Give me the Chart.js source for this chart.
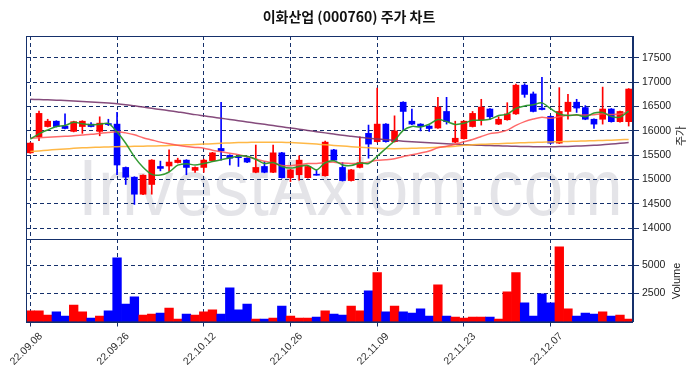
<!DOCTYPE html>
<html><head><meta charset="utf-8">
<script src="https://cdn.jsdelivr.net/npm/chart.js@4.4.0/dist/chart.umd.min.js"></script>
<style>
html,body{margin:0;padding:0;background:#fff;}
#wrap{position:relative;width:698px;height:378px;background:#fff;}
canvas{position:absolute;left:0;top:0;}
</style></head><body>
<div id="wrap"><canvas id="c1" width="698" height="378"></canvas><canvas id="c2" width="698" height="378"></canvas></div>
<script>
const dates = ["22.09.08","22.09.13","22.09.14","22.09.15","22.09.16","22.09.19","22.09.20","22.09.21","22.09.22","22.09.23",
"22.09.26","22.09.27","22.09.28","22.09.29","22.09.30","22.10.04","22.10.05","22.10.06","22.10.07","22.10.11",
"22.10.12","22.10.13","22.10.14","22.10.17","22.10.18","22.10.19","22.10.20","22.10.21","22.10.24","22.10.25",
"22.10.26","22.10.27","22.10.28","22.10.31","22.11.01","22.11.02","22.11.03","22.11.04","22.11.07","22.11.08",
"22.11.09","22.11.10","22.11.11","22.11.14","22.11.15","22.11.16","22.11.17","22.11.18","22.11.21","22.11.22",
"22.11.23","22.11.24","22.11.25","22.11.28","22.11.29","22.11.30","22.12.01","22.12.02","22.12.05","22.12.06",
"22.12.07","22.12.08","22.12.09","22.12.12","22.12.13","22.12.14","22.12.15","22.12.16","22.12.19","22.12.20"];

const open  = [15550,15880,16090,16200,16100,15990,16090,16140,15990,16150,
16140,15250,15050,14700,14900,15270,15280,15350,15400,15190,
15250,15390,15640,15500,15470,15440,15150,15270,15150,15550,
15040,15100,15040,15110,15080,15610,15250,14980,15250,15950,
15780,16140,15780,16590,16200,16140,16100,16060,16400,15770,
15840,16090,16230,16450,16140,16230,16350,16940,16760,16470,
16300,15750,16400,16590,16480,16240,16240,16450,16190,16190];
const high  = [15760,16410,16240,16210,16350,16200,16210,16170,16290,16240,
16380,15260,15060,15100,15410,15380,15610,15440,15410,15260,
15420,15560,16590,15510,15510,15450,15710,15370,15710,15560,
15210,15490,15280,15200,15790,15620,15350,15210,15880,16120,
16880,16150,16310,16600,16450,16150,16110,16690,16690,16200,
16210,16400,16650,16460,16290,16580,16960,16970,16800,17100,
16310,16890,16750,16650,16520,16250,16900,16460,16410,16870];
const low   = [15540,15800,16080,16080,16040,15980,15950,16080,15900,16110,
15100,14900,14490,14690,14700,15180,15170,15340,15100,15150,
15150,15380,15400,15300,15270,15350,15140,15140,15140,15030,
14960,14990,15030,15090,15070,15390,14970,14970,15240,15440,
15770,15770,15770,16020,16130,16000,15990,16050,16140,15760,
15830,16080,16120,16240,16130,16220,16340,16690,16390,16430,
15740,15740,16240,16380,16230,16050,16140,16180,16180,16100];
const close = [15750,16360,16200,16090,16050,16190,16200,16090,16160,16130,
15300,15050,14700,15090,15400,15230,15360,15400,15250,15250,
15400,15550,15590,15440,15450,15360,15250,15150,15550,15040,
15200,15400,15270,15090,15770,15400,14980,15200,15350,15730,
16140,15780,16000,16400,16140,16090,16050,16490,16190,15850,
16200,16360,16490,16290,16240,16350,16940,16750,16400,16440,
15750,16400,16590,16470,16240,16140,16450,16190,16400,16860];
const volume = [940,940,580,850,490,1470,850,310,490,940,
5670,1560,2190,580,670,760,1200,220,670,580,
850,1030,670,2990,1030,1560,220,220,310,1380,
490,310,310,400,940,670,580,1380,940,2720,
4360,850,1380,850,760,1120,490,3260,490,400,
310,400,400,400,220,2630,4360,1650,490,2460,
1650,6650,1120,490,760,670,850,490,580,220];

const ma5 = [15830,15940,16020,16090,16110,16178,16146,16124,16138,16154,
15976,15746,15468,15254,15108,15094,15156,15296,15328,15298,
15332,15370,15408,15446,15486,15478,15418,15330,15352,15270,
15238,15268,15292,15200,15346,15386,15302,15288,15340,15332,
15480,15640,15800,16010,16092,16082,16136,16234,16192,16134,
16156,16218,16218,16238,16316,16346,16462,16514,16536,16576,
16456,16348,16316,16330,16290,16368,16378,16298,16284,16408];
const ma20 = [15850,15860,15870,15880,15890,15900,15915,15930,15950,15970,
15985,15960,15920,15860,15815,15770,15735,15705,15680,15662,
15645,15605,15574,15542,15512,15470,15423,15376,15345,15291,
15286,15303,15332,15332,15350,15359,15340,15330,15335,15359,
15396,15407,15428,15476,15510,15547,15587,15654,15686,15726,
15776,15824,15885,15945,15969,16016,16114,16192,16244,16280,
16260,16291,16321,16324,16329,16332,16352,16337,16347,16398];
const ma60 = [15575,15590,15605,15618,15630,15642,15652,15660,15667,15672,
15677,15680,15683,15686,15690,15695,15700,15707,15714,15722,
15730,15738,15746,15753,15760,15764,15767,15768,15768,15765,
15760,15752,15742,15730,15717,15703,15690,15676,15663,15652,
15643,15638,15636,15638,15642,15648,15655,15663,15673,15684,
15705,15715,15724,15732,15739,15745,15752,15758,15764,15769,
15774,15779,15784,15789,15794,15799,15805,15811,15818,15825];
const ma120 = [16650,16645,16640,16632,16625,16615,16605,16595,16585,16572,
16560,16540,16515,16490,16465,16440,16415,16390,16365,16335,
16310,16285,16260,16235,16210,16185,16160,16135,16110,16085,
16060,16035,16010,15985,15960,15935,15910,15890,15870,15850,
15835,15820,15805,15790,15778,15766,15755,15745,15735,15725,
15718,15711,15705,15700,15695,15690,15685,15680,15677,15675,
15675,15678,15682,15688,15695,15705,15715,15730,15745,15760];

const priceTicks = [14000,14500,15000,15500,16000,16500,17000,17500];
const volumeTicks = [2500,5000];

const NAVY = '#15306b';
const DASH = [4,3];
const UP = '#ff0000', DOWN = '#0000ff';
const colors = close.map((c,i)=> c >= open[i] ? UP : DOWN);
const tickFont = {family:'"Liberation Sans", Arial, sans-serif', size:10.5};
const plain = v => String(v);

const xGridColor = (ctx)=> (ctx.index % 10 === 0 ? NAVY : 'rgba(0,0,0,0)');

const framePlugin = (label, cx, cy, extra) => ({
  id:'frame',
  beforeDraw(chart){ if (extra) extra(chart, chart.ctx); },
  afterDraw(chart){
    const ctx = chart.ctx, a = chart.chartArea;
    ctx.save();
    ctx.strokeStyle = NAVY; ctx.lineWidth = 1; ctx.setLineDash([]);
    ctx.strokeRect(Math.round(a.left)+0.5, Math.round(a.top)+0.5, Math.round(a.right-a.left)-1, Math.round(a.bottom-a.top));
    ctx.translate(cx, cy); ctx.rotate(-Math.PI/2);
    ctx.fillStyle = '#222'; ctx.font = '11px "Liberation Sans", "Noto Sans CJK KR", sans-serif';
    ctx.textAlign = 'center'; ctx.textBaseline = 'middle';
    ctx.fillText(label, 0, 0);
    ctx.restore();
  }
});

const xLabelPlugin = {
  id:'xlabels',
  afterDraw(chart){
    const ctx = chart.ctx, sx = chart.scales.x;
    ctx.save();
    ctx.fillStyle = '#333';
    ctx.font = '10.5px "Liberation Sans", Arial, sans-serif';
    ctx.textAlign = 'center'; ctx.textBaseline = 'middle';
    dates.forEach((d,i)=>{
      if (i % 10 !== 0) return;
      const x = sx.getPixelForValue(i);
      ctx.save();
      ctx.translate(x - 4, 349);
      ctx.rotate(-Math.PI/4);
      ctx.fillText(d, 0, 0);
      ctx.restore();
    });
    ctx.restore();
  }
};

const titleAndMark = (chart, ctx) => {
  ctx.save();
  ctx.fillStyle = '#111';
  ctx.font = 'bold 14px "Noto Sans CJK KR", sans-serif';
  ctx.textAlign = 'center'; ctx.textBaseline = 'middle';
  ctx.fillText('이화산업 (000760) 주가 차트', 349, 17);
  ctx.fillStyle = 'rgba(185,185,195,0.38)';
  ctx.font = '80px "Liberation Sans", Arial, sans-serif';
  ctx.textAlign = 'left'; ctx.textBaseline = 'alphabetic';
  ctx.fillText('InvestAxiom.com', 78, 215, 545);
  ctx.restore();
};

const line = (d, col) => ({type:'line', data:d, borderColor:col, borderWidth:1.5, pointRadius:0, tension:0.3, fill:false, order:0});

new Chart(document.getElementById('c1'), {
  type:'bar',
  data:{labels:dates, datasets:[
    line(ma5,'rgba(40,150,40,0.95)'),
    line(ma20,'rgba(255,80,80,0.85)'),
    line(ma60,'rgba(255,176,50,0.9)'),
    line(ma120,'rgba(120,55,110,0.9)'),
    {type:'bar', data:low.map((l,i)=>[l,high[i]]), backgroundColor:colors, barThickness:1, grouped:false, order:2},
    {type:'bar', data:open.map((o,i)=>[o,close[i]]), backgroundColor:colors, barThickness:6, grouped:false, minBarLength:1, order:1}
  ]},
  options:{
    responsive:false, animation:false, devicePixelRatio:1,
    layout:{padding:{left:26, top:36, right:0, bottom:139}},
    plugins:{legend:{display:false}, tooltip:{enabled:false}},
    scales:{
      x:{offset:true, grid:{offset:false, drawTicks:false, color:xGridColor, lineWidth:1},
         border:{display:false, dash:DASH}, ticks:{display:false, autoSkip:false},
         afterFit:s=>{s.height=0; s.paddingLeft=0; s.paddingRight=0;}},
      y:{position:'right', min:13780, max:17950,
         afterBuildTicks:s=>{s.ticks = priceTicks.map(v=>({value:v}));},
         grid:{color:NAVY, lineWidth:1, tickLength:6},
         border:{display:true, color:NAVY, dash:DASH},
         ticks:{color:'#222', font:tickFont, padding:3, callback:plain},
         afterFit:s=>{s.width=65; s.paddingTop=0; s.paddingBottom=0;}}
    }
  },
  plugins:[framePlugin('주가', 682, 136, titleAndMark)]
});

new Chart(document.getElementById('c2'), {
  type:'bar',
  data:{labels:dates, datasets:[
    {data:volume, backgroundColor:colors, barPercentage:1, categoryPercentage:1}
  ]},
  options:{
    responsive:false, animation:false, devicePixelRatio:1,
    layout:{padding:{left:26, top:239, right:0, bottom:0}},
    plugins:{legend:{display:false}, tooltip:{enabled:false}},
    scales:{
      x:{offset:true, grid:{offset:false, color:xGridColor, lineWidth:1, tickLength:5},
         border:{display:true, color:NAVY, dash:DASH},
         ticks:{display:false, autoSkip:false},
         afterFit:s=>{s.height=56.5; s.paddingLeft=0; s.paddingRight=0;}},
      y:{position:'right', min:0, max:7340,
         afterBuildTicks:s=>{s.ticks = volumeTicks.map(v=>({value:v}));},
         grid:{color:NAVY, lineWidth:1, tickLength:6},
         border:{display:true, color:NAVY, dash:DASH},
         ticks:{color:'#222', font:tickFont, padding:3, callback:plain},
         afterFit:s=>{s.width=65; s.paddingTop=0; s.paddingBottom=0;}}
    }
  },
  plugins:[framePlugin('Volume', 677, 281, null), xLabelPlugin]
});
</script>
</body></html>
